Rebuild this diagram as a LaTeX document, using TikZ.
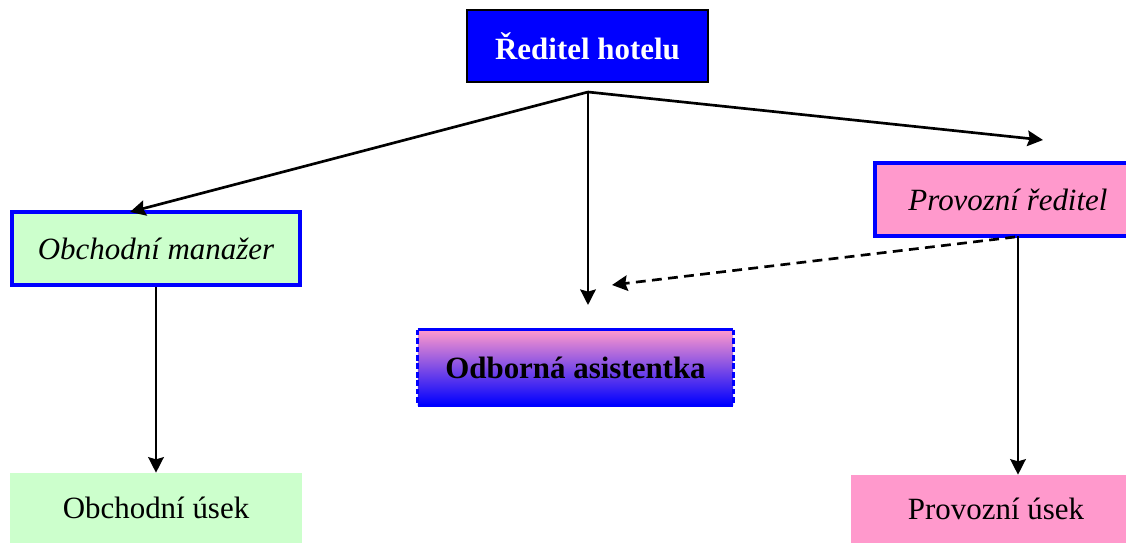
\documentclass[tikz,border=0pt]{standalone}
\usepackage{fontspec}
\setmainfont{Liberation Serif}
\usetikzlibrary{shapes,arrows.meta,positioning,shadings}
\definecolor{hotelblue}{RGB}{0,0,255}
\definecolor{mintgreen}{RGB}{204,255,204}
\definecolor{rosepink}{RGB}{255,153,204}

\tikzset{
  box/.style={rectangle, inner sep=0pt, font=\fontsize{22}{26}\selectfont},
  headbox/.style={box, draw=black, line width=1.6pt, fill=hotelblue, text=white, font=\fontsize{22}{26}\selectfont\bfseries},
  chiefbox/.style={box, draw=hotelblue, line width=2.6pt, font=\fontsize{22}{26}\selectfont\itshape},
  unitbox/.style={box},
  link/.style={line width=1.9pt, -{Stealth[length=11pt,width=11pt,inset=1.5pt]}},
}

\begin{document}
\begin{tikzpicture}[x=0.025cm, y=-0.025cm]
    \useasboundingbox (0,0) rectangle (1126,543);

    \node (director) [headbox, minimum width=6.025cm, minimum height=1.8cm] at (587.5,46) {Ředitel hotelu};
    \node (salesmgr) [chiefbox, fill=mintgreen, minimum width=7.2cm, minimum height=1.825cm] at (156,248.5) {Obchodní manažer};
    \node (opsmgr) [chiefbox, fill=rosepink, minimum width=6.65cm, minimum height=1.825cm] at (1008,199.5) {Provozní ředitel};
    \node (assistant) [box, top color=rosepink, middle color=rosepink!65!hotelblue, bottom color=hotelblue, font=\fontsize{22}{26}\selectfont\bfseries, minimum width=7.875cm, minimum height=1.875cm] at (575.5,367.5) {Odborná asistentka};
    \node (salesdept) [unitbox, fill=mintgreen, minimum width=7.3cm, minimum height=1.75cm] at (156,508) {Obchodní úsek};
    \node (opsdept) [unitbox, fill=rosepink, minimum width=7.25cm, minimum height=1.7cm] at (996,509) {Provozní úsek};

    % border of the assistant box
    \draw[hotelblue, line width=2.4pt] (assistant.north west) -- (assistant.north east);
    \draw[hotelblue, line width=2.4pt] (assistant.south west) -- (assistant.south east);
    \draw[hotelblue, line width=2.4pt, dash pattern=on 4pt off 2pt] (assistant.north west) -- (assistant.south west);
    \draw[hotelblue, line width=2.4pt, dash pattern=on 4pt off 2pt] (assistant.north east) -- (assistant.south east);

    \coordinate (hub) at (588,92);
    \coordinate (salestip) at (130,212);
    \coordinate (assisttip) at (588,305);
    \coordinate (opstip) at (1043,140);
    \coordinate (opsdrop) at (1018,236);
    \coordinate (dashstart) at (1015,237);
    \coordinate (dashtip) at (612,285);

    \draw[link] (hub) -- (salestip);
    \draw[link] (hub) -- (assisttip);
    \draw[link] (hub) -- (opstip);
    \draw[link, dash pattern=on 7pt off 4.5pt] (dashstart) -- (dashtip);
    \draw[link] (salesmgr.south) -- (salesdept.north);
    \draw[link] (opsdrop) -- (opsdrop |- opsdept.north);
\end{tikzpicture}
\end{document}
